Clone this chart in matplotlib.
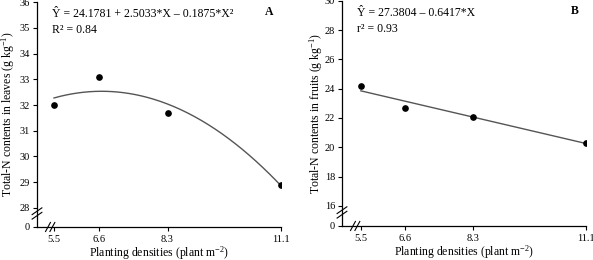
import numpy as np
import matplotlib
matplotlib.use('Agg')
import matplotlib.pyplot as plt

plt.rcParams['font.family'] = ['Liberation Serif', 'DejaVu Serif']
plt.rcParams['mathtext.fontset'] = 'custom'
plt.rcParams['mathtext.rm'] = 'Liberation Serif'
plt.rcParams['mathtext.it'] = 'Liberation Serif:italic'

# Planting densities (plant m-2)
densities = [5.5, 6.6, 8.3, 11.1]
density_labels = ['5.5', '6.6', '8.3', '11.1']

# Panel A: total-N in leaves
leaves_n = [32.0, 33.1, 31.7, 28.9]
leaves_coef = [24.1781, 2.5033, -0.1875]  # Y = a + b*X + c*X^2
leaves_ticks = [28, 29, 30, 31, 32, 33, 34, 35, 36]

# Panel B: total-N in fruits
fruits_n = [24.2, 22.7, 22.1, 20.3]
fruits_coef = [27.3804, -0.6417]  # Y = a + b*X
fruits_ticks = [16, 18, 20, 22, 24, 26, 28, 30]

fig = plt.figure(figsize=(5.93, 2.6), dpi=100)
axA = fig.add_axes([0.0624, 0.127, 0.4115, 0.865])
axB = fig.add_axes([0.5767, 0.131, 0.4115, 0.866])

def draw_panel(ax, y, coef, yticks, zero_pos, xmin, ylabel, eq, r2, letter, ylpad):
    xs = np.linspace(densities[0], densities[-1], 200)
    fit = sum(c * xs ** i for i, c in enumerate(coef))
    ax.plot(xs, fit, color='#555555', lw=1.0)
    ax.plot(densities, y, 'o', color='black', ms=3.8)
    ax.set_xlim(xmin, densities[-1])
    ax.set_ylim(zero_pos, yticks[-1])
    ax.set_xticks(densities)
    ax.set_xticklabels(density_labels)
    ax.set_yticks([zero_pos] + yticks)
    ax.set_yticklabels(['0'] + [str(t) for t in yticks])
    for s in ['top', 'right']:
        ax.spines[s].set_visible(False)
    for s in ['left', 'bottom']:
        ax.spines[s].set_linewidth(0.9)
    ax.tick_params(direction='out', length=3, width=0.8, labelsize=7.5, pad=2)
    ax.tick_params(axis='x', pad=3)
    ax.set_xlabel('Planting densities (plant m$^{-2}$)', fontsize=8.5, labelpad=0)
    ax.set_ylabel(ylabel, fontsize=8.5, labelpad=ylpad)
    ax.text(0.063, 0.945, eq, transform=ax.transAxes, fontsize=8.5, va='center')
    ax.text(0.063, 0.875, r2, transform=ax.transAxes, fontsize=8.5, va='center')
    ax.text(0.97, 0.955, letter, transform=ax.transAxes, fontsize=8.5,
            fontweight='bold', va='center', ha='right')
    # axis break marks
    kw = dict(transform=ax.transAxes, color='black', lw=0.8, clip_on=False)
    for dx in (0, 0.018):
        ax.plot([0.035 + dx, 0.055 + dx], [-0.02, 0.02], **kw)
    for dy in (0, 0.02):
        ax.plot([-0.02, 0.02], [0.035 + dy, 0.065 + dy], **kw)

draw_panel(axA, leaves_n, leaves_coef, leaves_ticks, 27.26, 5.08,
           'Total-N contents in leaves (g kg$^{-1}$)',
           'Ŷ = 24.1781 + 2.5033*X – 0.1875*X²', 'R² = 0.84', 'A', 2)
draw_panel(axB, fruits_n, fruits_coef, fruits_ticks, 14.63, 5.03,
           'Total-N contents in fruits (g kg$^{-1}$)',
           'Ŷ = 27.3804 – 0.6417*X', 'r² = 0.93', 'B', 0)

fig.savefig('out.png', dpi=100)
